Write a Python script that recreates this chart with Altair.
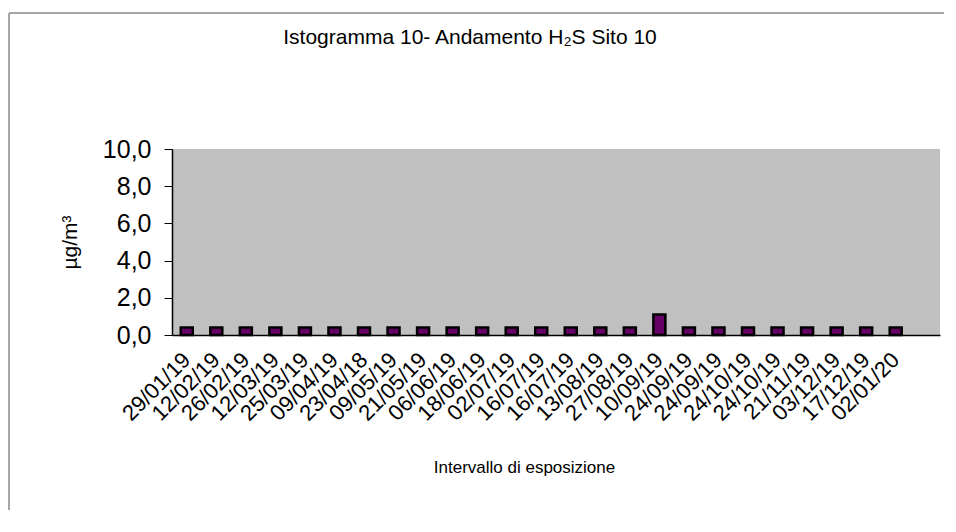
import altair as alt
import pandas as pd

labels = ["29/01/19", "12/02/19", "26/02/19", "12/03/19", "25/03/19", "09/04/19",
          "23/04/18", "09/05/19", "21/05/19", "06/06/19", "18/06/19", "02/07/19",
          "16/07/19", "16/07/19", "13/08/19", "27/08/19", "10/09/19", "24/09/19",
          "24/09/19", "24/10/19", "24/10/19", "21/11/19", "03/12/19", "17/12/19",
          "02/01/20", ""]
values = [0.4, 0.4, 0.4, 0.4, 0.4, 0.4, 0.4, 0.4, 0.4, 0.4, 0.4, 0.4, 0.4,
          0.4, 0.4, 0.4, 1.1, 0.4, 0.4, 0.4, 0.4, 0.4, 0.4, 0.4, 0.4]
title_text = "Istogramma 10- Andamento H₂S Sito 10"

df = pd.DataFrame({"idx": list(range(len(values))), "val": values})
one = pd.DataFrame({"t": [title_text]})
label_js = "[" + ",".join("'" + s + "'" for s in labels) + "]"

FONT = "Liberation Sans"

bars = alt.Chart(df).mark_bar(
    size=12, fill="#660066", stroke="#000000", strokeWidth=2.5
).encode(
    x=alt.X("idx:O", scale=alt.Scale(domain=list(range(len(labels))), paddingInner=0, paddingOuter=0),
            axis=alt.Axis(title="Intervallo di esposizione", labelExpr=label_js + "[datum.value]",
                          labelAngle=-45, labelAlign="right", labelBaseline="middle",
                          labelPadding=21, ticks=False, domain=True, domainColor="#000000",
                          domainWidth=1.5, labelFont=FONT, labelFontSize=22, labelColor="#000000",
                          titleFont=FONT, titleFontSize=17, titleFontWeight="normal", titleColor="#000000",
                          titleX=352, titleY=132, titleBaseline="middle", titleAlign="center")),
    y=alt.Y("val:Q", scale=alt.Scale(domain=[0, 10], nice=False),
            axis=alt.Axis(title="µg/m³", values=[0, 2, 4, 6, 8, 10],
                          labelExpr="replace(format(datum.value, '.1f'), '.', ',')",
                          grid=False, tickSize=8, tickColor="#000000", domainColor="#000000",
                          domainWidth=1.5, labelFont=FONT, labelFontSize=25, labelColor="#000000",
                          labelPadding=13,
                          titleFont=FONT, titleFontSize=21, titleFontWeight="normal", titleColor="#000000",
                          titleAngle=-90, titleX=-102, titleY=93, titleAlign="center",
                          titleBaseline="middle")),
)

title = alt.Chart(one).mark_text(
    font=FONT, fontSize=21, fontWeight="normal", color="#000000", align="center", baseline="middle"
).encode(text="t:N", x=alt.value(298), y=alt.value(-111))

frame_top = alt.Chart(one).mark_rule(color="#a6a6a6", strokeWidth=2).encode(
    x=alt.value(-163), x2=alt.value(776), y=alt.value(-136)
)
frame_left = alt.Chart(one).mark_rule(color="#a6a6a6", strokeWidth=2).encode(
    x=alt.value(-163), y=alt.value(-136), y2=alt.value(380)
)

chart = alt.layer(bars, title, frame_top, frame_left).properties(
    width=768, height=186,
    background="#ffffff",
    autosize=alt.AutoSizeParams(type="none"),
    padding={"left": 164, "top": 141, "right": 4, "bottom": 175},
).configure_view(fill="#c0c0c0", stroke=None)

chart.save("out.html", embed_options={"renderer": "svg", "actions": False})
